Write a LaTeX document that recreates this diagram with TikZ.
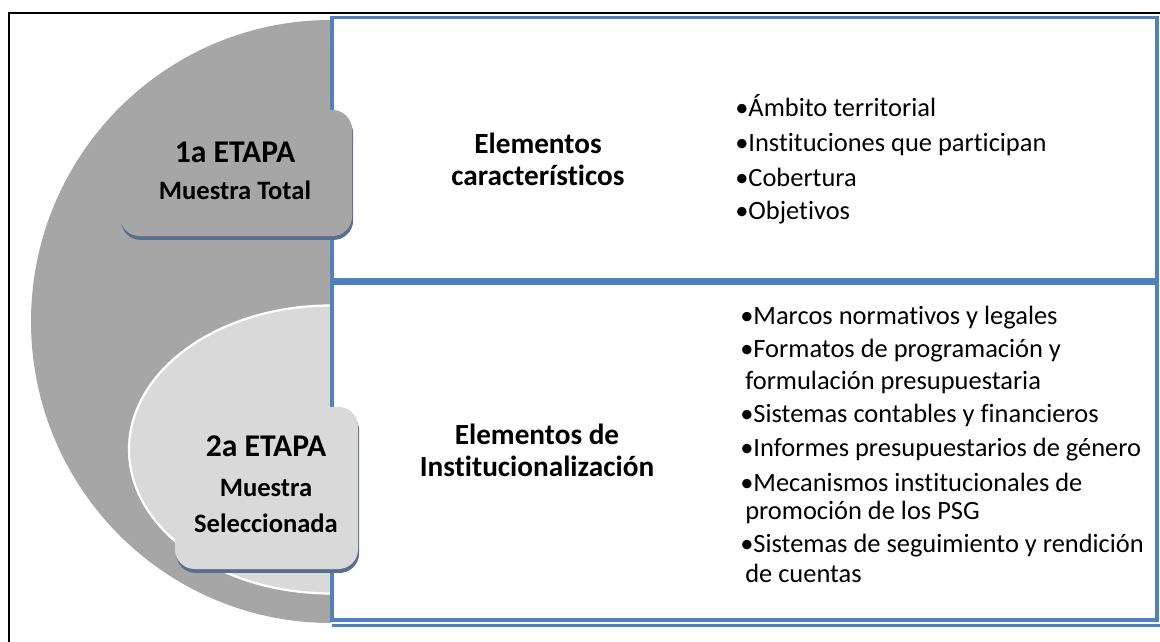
\documentclass[tikz,border=0pt]{standalone}
\usepackage{fontspec}
\setmainfont{Carlito}[Ligatures=NoCommon]
\usetikzlibrary{positioning,shadows}
\definecolor{diskgray}{HTML}{A6A6A6}
\definecolor{ovalgray}{HTML}{D9D9D9}
\definecolor{panelblue}{HTML}{4F81BD}
\definecolor{shadeblue}{HTML}{5A6E8E}

\begin{document}
\begin{tikzpicture}[
    x=0.025cm, y=-0.025cm,
    panel/.style={draw=panelblue, line width=2.6pt},
    stagebox/.style={rounded corners=14pt, inner sep=0,
        drop shadow={fill=shadeblue, opacity=1, shadow xshift=0.8pt, shadow yshift=-2.8pt}},
    stagetitle/.style={anchor=base, inner sep=0, font=\fontsize{22.5}{27}\selectfont\bfseries},
    stagesub/.style={anchor=base, inner sep=0, font=\fontsize{18.9}{23}\selectfont\bfseries},
    heading/.style={align=center, inner sep=0, font=\fontsize{20.8}{22.8}\selectfont\bfseries},
    item/.style={anchor=base west, inner sep=0, font=\fontsize{18.8}{22}\selectfont}]
\useasboundingbox (0,0) rectangle (1160,642);

\draw[line width=1.3pt] (9,660) -- (9,13) -- (1170,13);

\begin{scope}
  \clip (0,0) rectangle (331,642);
  \fill[diskgray] (331,321.5) circle [x radius=300, y radius=301.5];
  \filldraw[fill=ovalgray, draw=white, line width=1.6pt] (331,449.5) circle [x radius=202, y radius=144];
\end{scope}

\draw[panel] (332,17.5) rectangle (1157,280);
\draw[panel] (332,283.5) rectangle (1157,620);
\draw[panelblue, line width=1.8pt] (332,625.5) -- (1160,625.5);

\node[stagebox, fill=diskgray, minimum width=5.8cm, minimum height=3.15cm] (stage1) at (236,173) {};
\node[stagebox, fill=ovalgray, minimum width=4.575cm, minimum height=4.05cm] (stage2) at (266.5,488) {};

\node[stagetitle] (stage1-title) at (235,163) {1a ETAPA};
\node[stagesub] (stage1-sub) at (235,200) {Muestra Total};
\node[stagetitle] (stage2-title) at (266,457) {2a ETAPA};
\node[stagesub] (stage2-sub) at (266,497) {Muestra};
\node[stagesub] (stage2-sel) at (266,533) {Seleccionada};

\node[heading] (head1) at (538,159) {Elementos\\característicos};
\node[heading] (head2) at (537,450) {Elementos de\\Institucionalización};

\foreach \y/\txt [count=\i] in {117/{•Ámbito territorial}, 152/{•Instituciones que participan},
    187/{•Cobertura}, 220/{•Objetivos}}
  \node[item] (top-\i) at (735,\y) {\txt};

\foreach \x/\y/\txt [count=\i] in {740/325/{•Marcos normativos y legales},
    740/358/{•Formatos de programación y}, 745/390/{formulación presupuestaria},
    740/423/{•Sistemas contables y financieros}, 740/457/{•Informes presupuestarios de género},
    740/492/{•Mecanismos institucionales de}, 745/520/{promoción de los PSG},
    740/553/{•Sistemas de seguimiento y rendición}, 745/583/{de cuentas}}
  \node[item] (low-\i) at (\x,\y) {\txt};

\end{tikzpicture}
\end{document}
